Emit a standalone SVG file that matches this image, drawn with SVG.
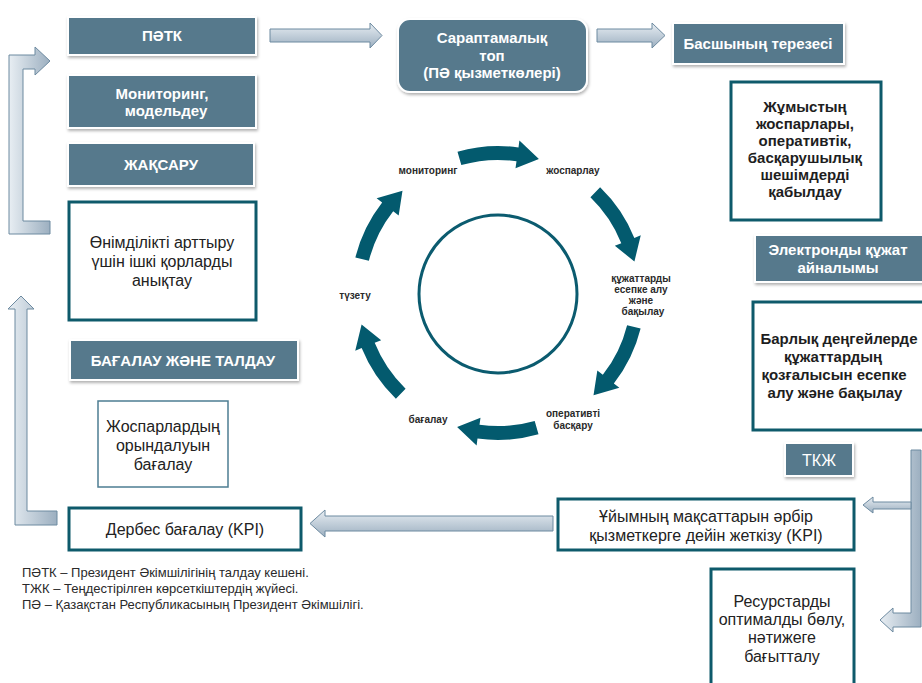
<svg xmlns="http://www.w3.org/2000/svg" width="922" height="683" viewBox="0 0 922 683">
<defs>
<filter id="sh" x="-10%" y="-20%" width="120%" height="150%">
<feDropShadow dx="1" dy="2" stdDeviation="1.5" flood-color="#000" flood-opacity="0.3"/>
</filter>
<linearGradient id="gv" x1="0" y1="0" x2="0" y2="1">
<stop offset="0" stop-color="#e8eef3"/><stop offset="1" stop-color="#9cafc0"/>
</linearGradient>
<linearGradient id="gh" x1="0" y1="0" x2="1" y2="0">
<stop offset="0" stop-color="#e8eef3"/><stop offset="1" stop-color="#9cafc0"/>
</linearGradient>
<path id="carr" d="M 457.5,151.7 A 147 147 0 0 1 518.5,147.4 L 519.4,140.5 L 538.9,159.1 L 515.5,168.2 L 516.5,161.3 A 133 133 0 0 0 461.3,165.1 Z"/>
</defs>
<style>
.fb{fill:#56798c;stroke:#fff;stroke-width:2;filter:url(#sh)}
.wb{fill:#fff;stroke:#0e5a6b;stroke-width:3}
.wt{font-family:"Liberation Sans",Arial,sans-serif;font-weight:bold;font-size:15px;fill:#fff;text-anchor:middle}
.bt{font-family:"Liberation Sans",Arial,sans-serif;font-weight:bold;font-size:15px;fill:#1e1e1e;text-anchor:middle}
.rt{font-family:"Liberation Sans",Arial,sans-serif;font-size:16px;fill:#222;text-anchor:middle}
.ct{font-family:"Liberation Sans",Arial,sans-serif;font-weight:bold;font-size:10px;fill:#2a2a2a;text-anchor:middle}
.lg{font-family:"Liberation Sans",Arial,sans-serif;font-size:13px;fill:#2a2a2a}
.av{fill:url(#gv);stroke:#6d8aa0;stroke-width:1}
.ah{fill:url(#gh);stroke:#6d8aa0;stroke-width:1}
.ca{fill:#035a6e}
</style>
<rect width="922" height="683" fill="#fff"/>

<g id="connectors">
<path class="av" d="M270,29 L370,29 L370,23 L382,35.5 L370,48 L370,42 L270,42 Z"/>
<path class="av" d="M597,29 L652,29 L652,23 L665,35.5 L652,48 L652,42 L597,42 Z"/>
<path class="ah" d="M9,55 L35,55 L35,47 L50,61 L35,75 L35,69 L23,69 L23,221 L50,221 L50,234 L9,234 Z"/>
<path class="ah" d="M15,309 L8,309 L21,296 L34,309 L27,309 L27,511 L57,511 L57,525 L15,525 Z"/>
<path class="av" d="M553,516 L325,516 L325,510 L310,523.5 L325,537 L325,531 L553,531 Z"/>
<path class="ah" d="M911,450 L921,450 L921,627 L893,627 L893,632 L880,620 L893,608 L893,613 L911,613 Z"/>
<path class="av" d="M911,502 L873,502 L873,497 L863,505 L873,513 L873,509 L911,509 Z"/>
</g>

<g id="cycle">
<circle cx="498" cy="294" r="79" fill="none" stroke="#0b5b6f" stroke-width="3"/>
<use href="#carr" class="ca"/>
<use href="#carr" class="ca" transform="rotate(60 498 293)"/>
<use href="#carr" class="ca" transform="rotate(120 498 293)"/>
<use href="#carr" class="ca" transform="rotate(180 498 293)"/>
<use href="#carr" class="ca" transform="rotate(240 498 293)"/>
<use href="#carr" class="ca" transform="rotate(300 498 293)"/>
<text class="ct" x="428" y="174">мониторинг</text>
<text class="ct" x="573" y="174">жоспарлау</text>
<text class="ct" x="641" y="282">құжаттарды</text>
<text class="ct" x="641" y="293">есепке алу</text>
<text class="ct" x="641" y="304">және</text>
<text class="ct" x="643" y="315">бақылау</text>
<text class="ct" x="573" y="417">оперативті</text>
<text class="ct" x="573" y="429">басқару</text>
<text class="ct" x="428" y="423">бағалау</text>
<text class="ct" x="355" y="299">түзету</text>
</g>

<g id="n-patk"><rect class="fb" x="68" y="17" width="188" height="38"/><text class="wt" x="162" y="41">ПӘТК</text></g>
<g id="n-monitoring"><rect class="fb" x="68" y="75" width="188" height="53"/><text class="wt" x="162" y="99">Мониторинг,</text><text class="wt" x="166" y="116">модельдеу</text></g>
<g id="n-zhaksaru"><rect class="fb" x="68" y="143" width="186" height="43"/><text class="wt" x="161" y="170">ЖАҚСАРУ</text></g>
<g id="n-onimdilik"><rect class="wb" x="69" y="202" width="187" height="118"/><text class="rt" x="162" y="248">Өнімділікті арттыру</text><text class="rt" x="162" y="267">үшін ішкі қорларды</text><text class="rt" x="162" y="286">анықтау</text></g>
<g id="n-bagalau-taldau"><rect class="fb" x="70" y="340" width="228" height="40"/><text class="wt" x="183" y="366">БАҒАЛАУ ЖӘНЕ ТАЛДАУ</text></g>
<g id="n-zhosparlar"><rect x="98" y="401" width="130" height="86" fill="#fff" stroke="#4d7d92" stroke-width="1.5"/><text class="rt" x="163" y="432">Жоспарлардың</text><text class="rt" x="163" y="451">орындалуын</text><text class="rt" x="163" y="470">бағалау</text></g>
<g id="n-derbes"><rect class="wb" x="69" y="508" width="232" height="42"/><text class="rt" x="185" y="535">Дербес бағалау (KPI)</text></g>
<g id="n-saraptama"><rect class="fb" x="398" y="19" width="189" height="73" rx="12"/><text class="wt" x="492" y="43">Сараптамалық</text><text class="wt" x="492" y="61">топ</text><text class="wt" x="492" y="78">(ПӘ қызметкөлері)</text></g>
<g id="n-basshy"><rect class="fb" x="673" y="23" width="171" height="41"/><text class="wt" x="758" y="49">Басшының терезесі</text></g>
<g id="n-zhumys"><rect class="wb" x="731" y="82" width="150" height="138"/><text class="bt" x="805" y="112">Жұмыстың</text><text class="bt" x="805" y="129">жоспарлары,</text><text class="bt" x="805" y="146">оперативтік,</text><text class="bt" x="805" y="163">басқарушылық</text><text class="bt" x="805" y="180">шешімдерді</text><text class="bt" x="805" y="197">қабылдау</text></g>
<g id="n-elektron"><rect class="fb" x="755" y="235" width="170" height="47"/><text class="wt" x="838" y="255">Электронды құжат</text><text class="wt" x="838" y="273">айналымы</text></g>
<g id="n-barlyk"><rect class="wb" x="753" y="302" width="172" height="128"/><text class="bt" x="839" y="344">Барлық деңгейлерде</text><text class="bt" x="833" y="362">құжаттардың</text><text class="bt" x="834" y="380">қозғалысын есепке</text><text class="bt" x="835" y="398">алу және бақылау</text></g>
<g id="n-tkzh"><rect class="fb" x="785" y="443" width="68" height="33"/><text class="rt" x="819" y="466" style="fill:#fff">ТКЖ</text></g>
<g id="n-uiym"><rect class="wb" x="558" y="499" width="296" height="51"/><text class="rt" x="706" y="522">Ұйымның мақсаттарын әрбір</text><text class="rt" x="706" y="541">қызметкерге дейін жеткізу (KPI)</text></g>
<g id="n-resurs"><rect class="wb" x="711" y="569" width="143" height="125"/><text class="rt" x="782" y="607">Ресурстарды</text><text class="rt" x="782" y="625">оптималды бөлу,</text><text class="rt" x="782" y="643">нәтижеге</text><text class="rt" x="782" y="662">бағытталу</text></g>

<g id="legend">
<text class="lg" x="22" y="577">ПӘТК – Президент Әкімшілігінің талдау кешені.</text>
<text class="lg" x="22" y="593">ТЖК – Теңдестірілген көрсеткіштердің жүйесі.</text>
<text class="lg" x="22" y="609">ПӘ – Қазақстан Республикасының Президент Әкімшілігі.</text>
</g>
</svg>
